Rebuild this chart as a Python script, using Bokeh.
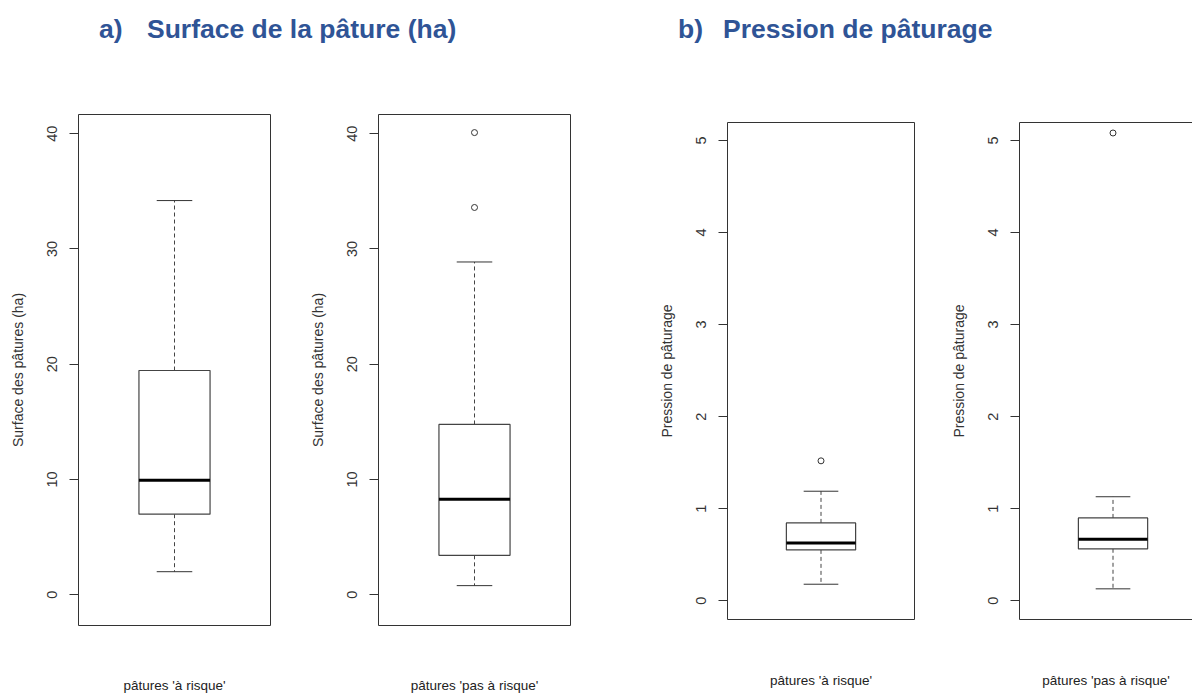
from bokeh.plotting import figure
from bokeh.models import Range1d, FixedTicker, LinearAxis, Div
from bokeh.layouts import row, column
from bokeh.embed import file_html
from bokeh.resources import INLINE

# ---- data -------------------------------------------------------------
groups = ["pâtures 'à risque'", "pâtures 'pas à risque'"]

# Surface des pâtures (ha): whisker ends, quartiles, median, outliers
surface_low = [1.99, 0.78]
surface_q1 = [6.98, 3.41]
surface_median = [9.92, 8.28]
surface_q3 = [19.45, 14.77]
surface_high = [34.2, 28.87]
surface_outliers = [[], [33.6, 40.1]]
surface_ticks = [0, 10, 20, 30, 40]

# Pression de pâturage
pression_low = [0.18, 0.13]
pression_q1 = [0.553, 0.565]
pression_median = [0.629, 0.669]
pression_q3 = [0.846, 0.900]
pression_high = [1.19, 1.13]
pression_outliers = [[1.52], [5.08]]
pression_ticks = [0, 1, 2, 3, 4, 5]

# ---- styling ----------------------------------------------------------
FONT = "Liberation Sans"
INK = "#333333"
BOX_INK = "#444444"
BOX_HALF = 0.2     # half box width, x units
CAP_HALF = 0.1     # half whisker-cap width


def boxplot_panel(width, border_left, border_right, border_top, border_bottom,
                  y_range, x_end, ticks, ylab, xlab, stats, outliers,
                  xlab_standoff, open_right=False):
    low, q1, med, q3, high = stats
    p = figure(width=width, height=595, output_backend="svg", toolbar_location=None,
               x_range=Range1d(0.46, x_end), y_range=Range1d(*y_range),
               min_border_left=border_left, min_border_right=border_right,
               min_border_top=border_top, min_border_bottom=border_bottom,
               background_fill_color="white", border_fill_color="white",
               frame_align=False)
    p.xgrid.visible = False
    p.ygrid.visible = False

    if open_right:
        p.outline_line_color = None
    else:
        p.outline_line_color = INK
        p.outline_line_width = 1

    # y axis, R style: outward ticks, labels parallel to the axis
    ya = p.yaxis[0]
    ya.ticker = FixedTicker(ticks=ticks)
    ya.major_tick_out = 9
    ya.major_tick_in = 0
    ya.minor_tick_out = 0
    ya.minor_tick_in = 0
    ya.major_tick_line_color = INK
    ya.axis_line_color = INK if open_right else None
    ya.major_label_orientation = "vertical"
    ya.major_label_text_font = FONT
    ya.major_label_text_font_size = "14.5px"
    ya.major_label_text_color = INK
    ya.major_label_standoff = 12
    ya.axis_label = ylab
    ya.axis_label_text_font = FONT
    ya.axis_label_text_font_size = "14px"
    ya.axis_label_text_font_style = "normal"
    ya.axis_label_text_color = INK
    ya.axis_label_standoff = 19

    # x axis carries only the group name
    xa = p.xaxis[0]
    xa.ticker = FixedTicker(ticks=[])
    xa.major_tick_out = 0
    xa.major_tick_in = 0
    xa.minor_tick_out = 0
    xa.minor_tick_in = 0
    xa.axis_line_color = INK if open_right else None
    xa.axis_label = xlab
    xa.axis_label_text_font = FONT
    xa.axis_label_text_font_size = "13.5px"
    xa.axis_label_text_font_style = "normal"
    xa.axis_label_text_color = "#222222"
    xa.axis_label_standoff = xlab_standoff

    if open_right:
        top = LinearAxis(ticker=FixedTicker(ticks=[]), axis_line_color=INK,
                         major_tick_out=0, major_tick_in=0,
                         minor_tick_out=0, minor_tick_in=0)
        p.add_layout(top, "above")

    x = 1
    # dashed whiskers
    p.segment(x0=[x, x], y0=[q3, q1], x1=[x, x], y1=[high, low],
              line_color=BOX_INK, line_width=1, line_dash="4 3")
    # box
    p.quad(left=[x - BOX_HALF], right=[x + BOX_HALF], bottom=[q1], top=[q3],
           fill_color="white", line_color=BOX_INK, line_width=1.2)
    # median
    p.segment(x0=[x - BOX_HALF], y0=[med], x1=[x + BOX_HALF], y1=[med],
              line_color="black", line_width=3)
    # caps
    p.segment(x0=[x - CAP_HALF, x - CAP_HALF], y0=[high, low],
              x1=[x + CAP_HALF, x + CAP_HALF], y1=[high, low],
              line_color=INK, line_width=1)
    # outliers
    if outliers:
        p.scatter(x=[x] * len(outliers), y=outliers, marker="circle", size=6,
                  fill_color=None, line_color=INK, line_width=1)
    return p


def stats_of(low, q1, med, q3, high, i):
    return (low[i], q1[i], med[i], q3[i], high[i])


surf_range = (-2.68, 41.67)
pres_range = (-0.203, 5.194)

f1 = boxplot_panel(300, 78, 30, 14, 68, surf_range, 1.54, surface_ticks,
                   "Surface des pâtures (ha)", groups[0],
                   stats_of(surface_low, surface_q1, surface_median, surface_q3, surface_high, 0),
                   surface_outliers[0], 52)
f2 = boxplot_panel(340, 78, 70, 14, 68, surf_range, 1.54, surface_ticks,
                   "Surface des pâtures (ha)", groups[1],
                   stats_of(surface_low, surface_q1, surface_median, surface_q3, surface_high, 1),
                   surface_outliers[1], 52)
f3 = boxplot_panel(290, 87, 16, 22, 76, pres_range, 1.54, pression_ticks,
                   "Pression de pâturage", groups[0],
                   stats_of(pression_low, pression_q1, pression_median, pression_q3, pression_high, 0),
                   pression_outliers[0], 53)
f4 = boxplot_panel(262, 89, 0, 22, 76, pres_range, 1.459, pression_ticks,
                   "Pression de pâturage", groups[1],
                   stats_of(pression_low, pression_q1, pression_median, pression_q3, pression_high, 1),
                   pression_outliers[1], 53, open_right=True)

title_style = ("position:absolute;top:11px;white-space:nowrap;"
               "font-family:'Liberation Sans',Arial,sans-serif;font-weight:bold;"
               "font-size:26.5px;color:#2F5496;")
header = Div(
    text=(
        '<div style="position:relative;width:1192px;height:100px;">'
        f'<span style="{title_style}left:99px;">a)</span>'
        f'<span style="{title_style}left:147px;">Surface de la pâture (ha)</span>'
        f'<span style="{title_style}left:678px;">b)</span>'
        f'<span style="{title_style}left:723px;">Pression de pâturage</span>'
        '</div>'
    ),
    width=1192, height=100, margin=(0, 0, 0, 0),
)

layout = column(header, row(f1, f2, f3, f4, spacing=0), spacing=0)

open("out.html", "w").write(file_html(layout, INLINE))
